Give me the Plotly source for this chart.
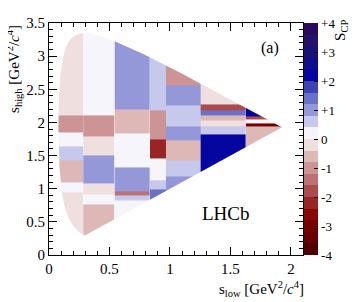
import numpy as np
import plotly.graph_objects as go

# ---- binning (column x edges, per-column y edges) and S_CP values ----
col_edges = [0.0, 0.283, 0.543, 0.835, 0.967, 1.254, 1.628, 1.95]
col_y_edges = [
    [0.0, 0.948, 1.094, 1.434, 1.644, 1.848, 2.104, 3.6],
    [0.0, 0.76, 0.92, 1.08, 1.50, 1.795, 2.10, 3.6],
    [0.0, 0.817, 0.904, 0.963, 1.327, 1.837, 2.20, 3.6],
    [0.0, 0.987, 1.119, 1.458, 1.75, 2.18, 2.494, 3.6],
    [0.0, 1.19, 1.434, 1.725, 1.944, 2.253, 2.552, 3.6],
    [0.0, 1.818, 1.944, 2.029, 2.107, 2.187, 2.27, 3.6],
    [0.0, 1.944, 1.99, 2.04, 2.09, 3.6],
]
col_values = [
    [-0.2, 0.2, -0.6, 0.6, 0.2, -1.0, -0.2],
    [-0.6, 0.2, -0.2, 1.0, -0.2, -1.0, 0.2],
    [0.2, 0.6, -1.4, 1.0, 0.2, -0.6, 1.0],
    [1.4, 0.6, 0.2, -2.2, -1.0, 0.6, 0.6],
    [1.0, 0.6, -0.6, 1.0, 0.6, 1.0, -1.0],
    [2.2, 0.6, -0.2, -0.6, 1.4, -1.8, -0.2],
    [-0.6, -2.9, 0.2, -1.8, 2.2],
]

cbar_tickvals = [4, 3, 2, 1, 0, -1, -2, -3, -4]
cbar_ticktext = ["+4", "+3", "+2", "+1", "0", "-1", "-2", "-3", "-4"]

# palette, from -4 to +4 in 20 steps
palette = ["#500000", "#640000", "#760000", "#880808", "#982424", "#aa4c4c",
           "#bc7272", "#cc9494", "#ddb8b7", "#efdfdf", "#f6f5fc", "#c6c8ec",
           "#9498d8", "#6a72c8", "#3c44b4", "#0505a0", "#0e0e8c", "#1a1078",
           "#25106a", "#2b0a5e"]
n = len(palette)
colorscale = []
for i, c in enumerate(palette):
    colorscale.append([i / n, c])
    colorscale.append([(i + 1) / n, c])

# ---- Dalitz boundary (Ds+ -> pi- pi+ pi+, folded s_low <= s_high) ----
M = 1.96835
m = 0.13957
s_min = 4 * m * m
s_tip = (M * M - m * m) / 2.0
t = np.linspace(0, 1, 400)
s12 = s_min + (s_tip - s_min) * t ** 2
rs = np.sqrt(s12)
E2 = rs / 2
E3 = (M * M - s12 - m * m) / (2 * rs)
p2 = np.sqrt(np.clip(E2 ** 2 - m * m, 0, None))
p3 = np.sqrt(np.clip(E3 ** 2 - m * m, 0, None))
s13_lo = (E2 + E3) ** 2 - (p2 + p3) ** 2
s13_hi = (E2 + E3) ** 2 - (p2 - p3) ** 2
lower = np.maximum(s12, s13_lo)
upper = np.maximum(s12, s13_hi)

fig = go.Figure()
for xe0, xe1, ye, vals in zip(col_edges[:-1], col_edges[1:], col_y_edges, col_values):
    fig.add_trace(go.Heatmap(
        x=[xe0, xe1], y=ye, z=[[v] for v in vals],
        coloraxis="coloraxis", hoverinfo="skip", xgap=0, ygap=0))

# white mask outside the kinematic region (outer rect CW, inner boundary CCW)
xo0, xo1, yo0, yo1 = -0.2, 2.4, -0.2, 3.8
inner_x = list(s12) + list(s12[::-1])
inner_y = list(lower) + list(upper[::-1])
mask_x = [xo0, xo0, xo1, xo1, xo0, inner_x[0]] + inner_x + [inner_x[0], xo0]
mask_y = [yo0, yo1, yo1, yo0, yo0, inner_y[0]] + inner_y + [inner_y[0], yo0]
fig.add_trace(go.Scatter(x=mask_x, y=mask_y, fill="toself", fillcolor="white",
                         mode="lines", line=dict(width=0, color="white"),
                         hoverinfo="skip", showlegend=False))

font = "Liberation Serif"
axis_common = dict(
    showgrid=False, zeroline=False, ticks="inside", ticklen=8, tickwidth=1,
    tickcolor="black", showline=True, linecolor="black", linewidth=1,
    mirror="allticks", tickfont=dict(family=font, size=15, color="black"),
    ticklabeloverflow="allow",
)
fig.update_layout(
    width=349, height=294,
    margin=dict(l=41, r=54, t=7, b=47),
    plot_bgcolor="white", paper_bgcolor="white",
    showlegend=False,
    xaxis=dict(range=[0, 2.1], dtick=0.5, tick0=0,
               minor=dict(dtick=0.1, ticklen=4, ticks="inside", tickcolor="black"),
               **axis_common),
    yaxis=dict(range=[0, 3.5001], dtick=0.5, tick0=0,
               minor=dict(dtick=0.1, ticklen=4, ticks="inside", tickcolor="black"),
               **axis_common),
    coloraxis=dict(
        cmin=-4, cmax=4, colorscale=colorscale,
        colorbar=dict(
            x=1.0, xanchor="left", xpad=1, y=0.5, yanchor="middle", ypad=0,
            len=1, lenmode="fraction", thickness=14, outlinewidth=0,
            tickvals=cbar_tickvals, ticktext=cbar_ticktext,
            ticks="inside", ticklen=4, tickcolor="black",
            ticklabeloverflow="allow",
            tickfont=dict(family=font, size=13, color="black"),
        ),
    ),
    annotations=[
        dict(text="s<sub>low</sub> [GeV<sup>2</sup>/<i>c</i><sup>4</sup>]",
             xref="paper", yref="paper", x=1.01, y=-0.146, xanchor="right",
             yanchor="middle", showarrow=False,
             font=dict(family=font, size=15, color="black")),
        dict(text="s<sub>high</sub> [GeV<sup>2</sup>/<i>c</i><sup>4</sup>]",
             xref="paper", yref="paper", x=-0.138, y=1.0, xanchor="center",
             yanchor="top", textangle=-90, showarrow=False,
             font=dict(family=font, size=15, color="black")),
        dict(text="S<sub>CP</sub>", xref="paper", yref="paper", x=1.15, y=1.02,
             xanchor="center", yanchor="top", textangle=-90, showarrow=False,
             font=dict(family=font, size=15, color="black")),
        dict(text="(a)", xref="x", yref="y", x=1.83, y=3.13, showarrow=False,
             font=dict(family=font, size=16, color="black")),
        dict(text="LHCb", xref="x", yref="y", x=1.46, y=0.62, showarrow=False,
             font=dict(family=font, size=19, color="black")),
    ],
)

fig.write_html("out.html")
